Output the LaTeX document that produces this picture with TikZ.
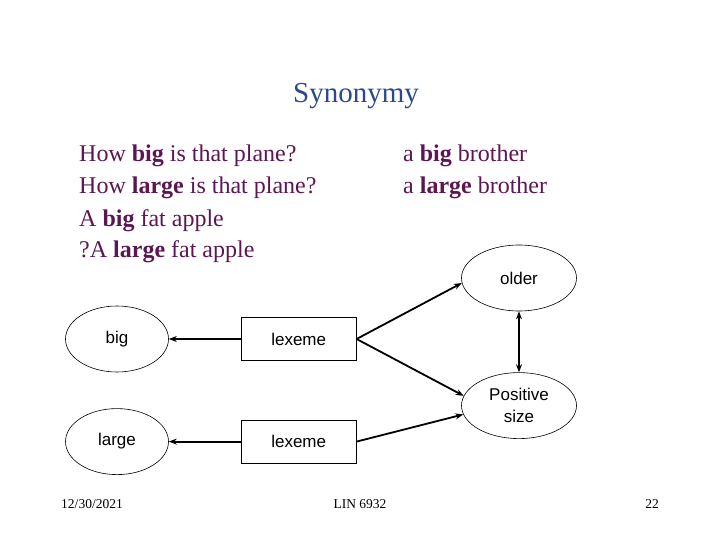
\documentclass[tikz,border=0pt]{standalone}
\usepackage{fontspec}
\setmainfont{Liberation Serif}
\setsansfont{Liberation Sans}
\usepackage{tikz}
\usetikzlibrary{positioning}
\usetikzlibrary{shapes.geometric}
\usetikzlibrary{arrows.meta}

\definecolor{titleblue}{RGB}{44,74,138}
\definecolor{sentpurple}{RGB}{92,22,82}

\begin{document}
\begin{tikzpicture}[x=1pt, y=-1pt,
    sent/.style={anchor=base west, inner sep=0pt, text=sentpurple, font=\fontsize{24}{28}\selectfont},
    oval/.style={draw, ellipse, line width=0.6pt, minimum width=103pt, minimum height=66pt, inner sep=0pt, align=center, font=\sffamily\fontsize{17}{22}\selectfont},
    lexbox/.style={draw, line width=0.8pt, minimum width=115pt, minimum height=43pt, inner sep=0pt, font=\sffamily\fontsize{17}{20}\selectfont},
    link/.style={line width=1.8pt, -{Stealth[length=8pt, width=6pt]}},
    footer/.style={anchor=base, inner sep=0pt, font=\fontsize{13.5}{14}\selectfont}]

    \useasboundingbox (0,0) rectangle (720,540);

    \node [text=titleblue, font=\fontsize{29}{34}\selectfont, anchor=base] (title) at (356,103) {Synonymy};

    \node [sent] (s1) at (79,162) {How \textbf{big} is that plane?};
    \node [sent] (s2) at (79,194) {How \textbf{large} is that plane?};
    \node [sent] (s3) at (79,226) {A \textbf{big} fat apple};
    \node [sent] (s4) at (79,258) {?A \textbf{large} fat apple};

    \node [sent] (b1) at (403,162) {a \textbf{big} brother};
    \node [sent] (b2) at (403,194) {a \textbf{large} brother};

    \node [oval] (big) at (117,339) {big};
    \node [oval, below=36pt of big] (large) {large};
    \node [lexbox, right=72pt of big] (lex1) {lexeme};
    \node [lexbox, right=72pt of large] (lex2) {lexeme};

    \node [oval, minimum width=115pt] (older) at (519,278) {older};
    \node [oval, minimum width=115pt, below=61pt of older] (pos) {Positive\\size};

    \draw [link] (lex1) -- (big);
    \draw [link] (lex2) -- (large);
    \draw [link] (lex1.east) -- (older.185);
    \draw [link] (lex1.east) -- (pos.170);
    \draw [link] (lex2.east) -- (pos.189);
    \draw [link, {Stealth[length=8pt, width=6pt]}-{Stealth[length=8pt, width=6pt]}] (older.south) -- (pos.north);

    \node [footer] (date) at (92,508) {12/30/2021};
    \node [footer] (course) at (360,508) {LIN 6932};
    \node [footer] (page) at (652,508) {22};

\end{tikzpicture}
\end{document}
